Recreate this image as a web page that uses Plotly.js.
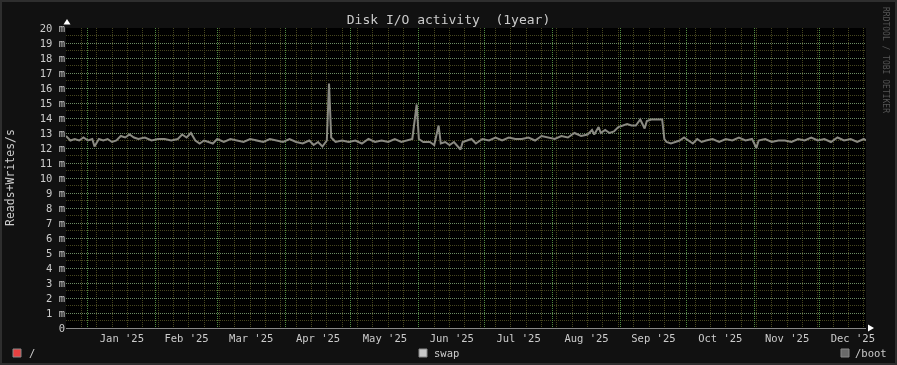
<!DOCTYPE html>
<html>
<head>
<meta charset="utf-8">
<script src="https://cdn.plot.ly/plotly-3.0.1.min.js"></script>
<style>
html,body{margin:0;padding:0;background:#111;}
#chart{width:897px;height:365px;will-change:transform;}
</style>
</head>
<body>
<div id="chart"></div>
<script>
// ---- data ----
const sampleDates = [
"2024-12-22","2024-12-24","2024-12-26","2024-12-28","2024-12-30",
"2025-01-01","2025-01-03","2025-01-04","2025-01-06","2025-01-08","2025-01-10","2025-01-12","2025-01-14","2025-01-16","2025-01-18","2025-01-20","2025-01-22","2025-01-24","2025-01-27","2025-01-30",
"2025-02-02","2025-02-05","2025-02-08","2025-02-11","2025-02-13","2025-02-15","2025-02-17","2025-02-19","2025-02-21","2025-02-23","2025-02-25","2025-02-27",
"2025-03-01","2025-03-04","2025-03-07","2025-03-10","2025-03-13","2025-03-16","2025-03-19","2025-03-22","2025-03-25","2025-03-28","2025-03-31",
"2025-04-03","2025-04-06","2025-04-09","2025-04-12","2025-04-14","2025-04-16","2025-04-18","2025-04-20","2025-04-21","2025-04-22","2025-04-24","2025-04-27","2025-04-30",
"2025-05-03","2025-05-06","2025-05-09","2025-05-12","2025-05-15","2025-05-18","2025-05-21","2025-05-24","2025-05-27","2025-05-29","2025-05-31",
"2025-06-01","2025-06-03","2025-06-06","2025-06-08","2025-06-10","2025-06-11","2025-06-13","2025-06-15","2025-06-17","2025-06-20","2025-06-21","2025-06-23","2025-06-25","2025-06-27","2025-06-30",
"2025-07-03","2025-07-06","2025-07-09","2025-07-12","2025-07-15","2025-07-18","2025-07-21","2025-07-24","2025-07-27","2025-07-30",
"2025-08-02","2025-08-05","2025-08-08","2025-08-11","2025-08-14","2025-08-17","2025-08-19","2025-08-20","2025-08-22","2025-08-23","2025-08-25","2025-08-27","2025-08-29","2025-08-31",
"2025-09-02","2025-09-04","2025-09-06","2025-09-08","2025-09-10","2025-09-11","2025-09-12","2025-09-13","2025-09-15","2025-09-18","2025-09-20","2025-09-21","2025-09-22","2025-09-24","2025-09-26","2025-09-28","2025-09-30",
"2025-10-02","2025-10-04","2025-10-06","2025-10-08","2025-10-10","2025-10-13","2025-10-16","2025-10-19","2025-10-22","2025-10-25","2025-10-28","2025-10-31",
"2025-11-02","2025-11-03","2025-11-06","2025-11-09","2025-11-12","2025-11-15","2025-11-18","2025-11-21","2025-11-24","2025-11-27","2025-11-30",
"2025-12-03","2025-12-06","2025-12-09","2025-12-12","2025-12-15","2025-12-18","2025-12-21","2025-12-22"
];
// values in milli reads+writes per second
const ioValues = [
12.8,12.5,12.6,12.5,12.7,
12.5,12.6,12.1,12.6,12.5,12.6,12.4,12.5,12.8,12.7,12.9,12.7,12.6,12.7,12.5,
12.6,12.6,12.5,12.6,12.9,12.7,13.0,12.5,12.3,12.5,12.4,12.3,
12.6,12.4,12.6,12.5,12.4,12.6,12.5,12.4,12.6,12.5,12.4,
12.6,12.4,12.3,12.5,12.2,12.4,12.1,12.5,16.3,12.7,12.4,12.5,12.4,
12.5,12.3,12.6,12.4,12.5,12.4,12.6,12.4,12.5,12.6,14.9,
12.6,12.4,12.4,12.2,13.5,12.3,12.4,12.2,12.4,11.9,12.4,12.5,12.6,12.3,12.6,
12.5,12.7,12.5,12.7,12.6,12.6,12.7,12.5,12.8,12.7,
12.6,12.8,12.7,13.0,12.8,12.9,13.2,12.9,13.4,13.0,13.2,13.0,13.1,13.4,
13.5,13.6,13.5,13.5,13.9,13.6,13.3,13.8,13.9,13.9,13.9,12.6,12.4,12.3,12.4,12.5,12.7,
12.5,12.3,12.6,12.4,12.5,12.6,12.4,12.6,12.5,12.7,12.5,12.6,
12.0,12.5,12.6,12.4,12.5,12.5,12.4,12.6,12.5,12.7,12.5,
12.6,12.4,12.7,12.5,12.6,12.4,12.6,12.5
];
const yTickVals = [0,1,2,3,4,5,6,7,8,9,10,11,12,13,14,15,16,17,18,19,20];
const yTickText = ["0","1 m","2 m","3 m","4 m","5 m","6 m","7 m","8 m","9 m","10 m","11 m","12 m","13 m","14 m","15 m","16 m","17 m","18 m","19 m","20 m"];
const legendNames = ["/","swap","/boot"];
const legendColors = ["#e84040","#c8c8c8","#6a6a6a"];

// ---- layout helpers (pixel -> paper) ----
const L=66, T=28, W=800, H=300;
const px=x=>(x-L)/W, py=y=>(T+H-y)/H;
const mono='"DejaVu Sans Mono", monospace';

const shapes=[
  {type:'rect',xref:'paper',yref:'paper',x0:px(1),x1:px(896),y0:py(1),y1:py(364),line:{color:'#2e2e2e',width:2},layer:'below'},
  {type:'path',xref:'paper',yref:'paper',path:`M ${px(63.5)} ${py(24.5)} L ${px(70.5)} ${py(24.5)} L ${px(67)} ${py(19)} Z`,fillcolor:'#ffffff',line:{width:0}},
  {type:'path',xref:'paper',yref:'paper',path:`M ${px(868)} ${py(324.5)} L ${px(868)} ${py(331.5)} L ${px(874)} ${py(328)} Z`,fillcolor:'#ffffff',line:{width:0}}
];
const legendPos=[{sq:13,tx:27},{sq:419,tx:432},{sq:841,tx:853}];
const annotations=[
  {text:'Reads+Writes/s',xref:'paper',yref:'paper',x:px(10),y:py(177),textangle:-90,showarrow:false,font:{family:mono,size:11.5,color:'#cccccc'},xanchor:'center',yanchor:'middle'},
  {text:'RRDTOOL / TOBI OETIKER',xref:'paper',yref:'paper',x:px(886),y:py(60),textangle:90,showarrow:false,font:{family:mono,size:8,color:'#555555'},xanchor:'center',yanchor:'middle'}
];
legendNames.forEach((n,i)=>{
  const p=legendPos[i];
  shapes.push({type:'rect',xref:'paper',yref:'paper',x0:px(p.sq),x1:px(p.sq+8),y0:py(357),y1:py(349),fillcolor:legendColors[i],line:{color:'#888888',width:1}});
  annotations.push({text:n,xref:'paper',yref:'paper',x:px(p.tx),y:py(353),xanchor:'left',yanchor:'middle',showarrow:false,font:{family:mono,size:10.5,color:'#cccccc'}});
});

const traces=[{
  x:sampleDates, y:ioValues, type:'scatter', mode:'lines', name:'swap',
  line:{color:'#8a8a82',width:2}, showlegend:false, hoverinfo:'x+y'
}];

const layout={
  width:897,height:365,
  margin:{l:L,r:897-L-W,t:T,b:365-T-H,pad:0},
  paper_bgcolor:'#111111',plot_bgcolor:'#000000',
  showlegend:false,
  title:{text:'Disk I/O activity \u00a0(1year)',x:0.5,xref:'container',xanchor:'center',y:1-19/365,yref:'container',yanchor:'middle',font:{family:mono,size:13,color:'#cccccc'}},
  xaxis:{
    type:'date',range:['2024-12-22','2025-12-22'],
    tick0:'2025-01-01',dtick:'M1',tickformat:"%b '%y",ticklabelmode:'period',
    showgrid:true,gridcolor:'#4f8a40',griddash:'1px,1px',gridwidth:1,
    minor:{tick0:'2024-12-29',dtick:7*86400000,showgrid:true,gridcolor:'#46461f',griddash:'1px,1px',ticks:''},
    ticks:'',showline:true,linecolor:'#888888',linewidth:1,zeroline:false,
    tickfont:{family:mono,size:10.5,color:'#cccccc'}
  },
  yaxis:{
    range:[0,20],tickvals:yTickVals,ticktext:yTickText,
    showgrid:true,gridcolor:'#6a8a64',griddash:'1px,1px',gridwidth:1,
    minor:{dtick:0.5,showgrid:true,gridcolor:'#46461f',griddash:'1px,1px',ticks:''},
    ticks:'',showline:false,zeroline:false,
    tickfont:{family:mono,size:10.5,color:'#cccccc'}
  },
  shapes:shapes,annotations:annotations
};
Plotly.newPlot('chart',traces,layout,{displayModeBar:false,staticPlot:true});
</script>
</body>
</html>
